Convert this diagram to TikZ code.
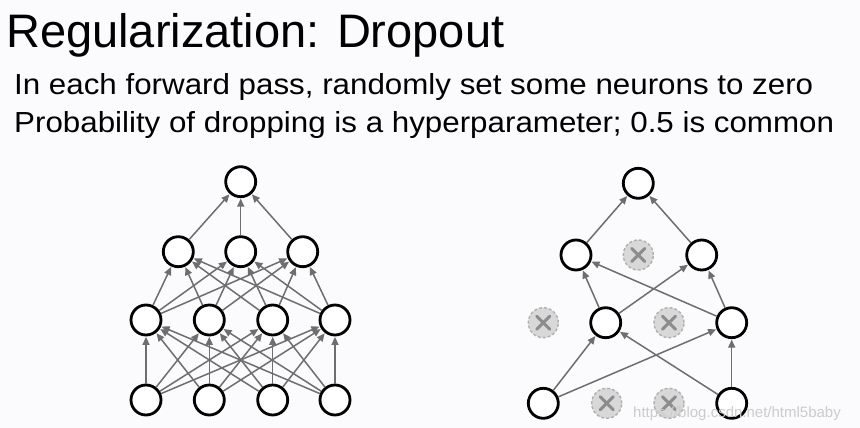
\documentclass[tikz,border=0pt]{standalone}
\usepackage{fontspec}
\setmainfont{Liberation Sans}
\newfontfamily\bodyfont{Liberation Sans}[FakeStretch=1.08]
\usetikzlibrary{arrows.meta}
\definecolor{bgc}{HTML}{FBFAFC}
\definecolor{edgec}{HTML}{6E6E6E}
\definecolor{dropfill}{HTML}{D8D8D8}
\definecolor{dropline}{HTML}{B0B0B0}
\definecolor{crossc}{HTML}{8C8C8C}
\definecolor{wmc}{HTML}{CCCCCC}
\tikzset{
  neuron/.style={circle, draw=black, line width=2.8pt, fill=white, minimum size=30pt, inner sep=0pt},
  dropneuron/.style={circle, draw=dropline, dashed, dash pattern=on 3pt off 2pt, line width=1.4pt, fill=dropfill, minimum size=30pt, inner sep=0pt},
  conn/.style={draw=edgec, line width=1.5pt, -{Triangle[length=8pt,width=7pt]}, shorten >=0.5pt},
  crossline/.style={draw=crossc, line width=3pt, line cap=round},
}
\begin{document}
\begin{tikzpicture}[x=1pt,y=-1pt]
\fill[bgc] (0,0) rectangle (860,428);
\useasboundingbox (0,0) rectangle (860,428);
% texts
\node[anchor=base west, inner sep=0pt, font=\fontsize{47}{52}\selectfont] (title) at (6,47.5) {Regularization: Dropout};
\node[anchor=base west, inner sep=0pt, font=\bodyfont\fontsize{29}{33}\selectfont] (l1) at (14,95) {In each forward pass, randomly set some neurons to zero};
\node[anchor=base west, inner sep=0pt, font=\bodyfont\fontsize{29}{33}\selectfont] (l2) at (14,132) {Probability of dropping is a hyperparameter; 0.5 is common};
% left network
\node[neuron] (a0) at (240.7,181.7) {};
\node[neuron] (b1) at (178.3,251.7) {};
\node[neuron] (b2) at (240.7,251.7) {};
\node[neuron] (b3) at (302.7,251.7) {};
\node[neuron] (c1) at (146,320) {};
\node[neuron] (c2) at (209.3,320) {};
\node[neuron] (c3) at (272.7,320) {};
\node[neuron] (c4) at (335,320) {};
\node[neuron] (d1) at (146,400) {};
\node[neuron] (d2) at (209.3,400) {};
\node[neuron] (d3) at (272.7,400) {};
\node[neuron] (d4) at (335,400) {};
\foreach \i in {1,2,3,4}{\foreach \j in {1,2,3,4}{\draw[conn] (d\i) -- (c\j);}}
\foreach \i in {1,2,3,4}{\foreach \j in {1,2,3}{\draw[conn] (c\i) -- (b\j);}}
\foreach \j in {1,2,3}{\draw[conn] (b\j) -- (a0);}
% right network
\node[neuron] (ra0) at (638.3,183.3) {};
\node[neuron] (rb1) at (576,255) {};
\node[dropneuron] (rb2) at (638.3,255) {};
\node[neuron] (rb3) at (701.7,255) {};
\node[dropneuron] (rc1) at (543.3,322.7) {};
\node[neuron] (rc2) at (605.7,322.7) {};
\node[dropneuron] (rc3) at (669,322.7) {};
\node[neuron] (rc4) at (731.7,322.7) {};
\node[neuron] (rd1) at (543.3,403.3) {};
\node[dropneuron] (rd2) at (606.7,403.3) {};
\node[dropneuron] (rd3) at (669,403.3) {};
\node[neuron] (rd4) at (731.7,403.3) {};
\foreach \n in {rb2,rc1,rc3,rd2,rd3}{
  \draw[crossline] ([shift={(-6.5,-6.5)}]\n.center) -- ([shift={(6.5,6.5)}]\n.center);
  \draw[crossline] ([shift={(-6.5,6.5)}]\n.center) -- ([shift={(6.5,-6.5)}]\n.center);
}
\draw[conn] (rd1) -- (rc2);
\draw[conn] (rd1) -- (rc4);
\draw[conn] (rd4) -- (rc2);
\draw[conn] (rd4) -- (rc4);
\draw[conn] (rc2) -- (rb1);
\draw[conn] (rc2) -- (rb3);
\draw[conn] (rc4) -- (rb1);
\draw[conn] (rc4) -- (rb3);
\draw[conn] (rb1) -- (ra0);
\draw[conn] (rb3) -- (ra0);
% watermark
\node[anchor=base west, inner sep=0pt, text=wmc, font=\fontsize{15}{18}\selectfont] (wm) at (633,417) {https://blog.csdn.net/html5baby};
\end{tikzpicture}
\end{document}
